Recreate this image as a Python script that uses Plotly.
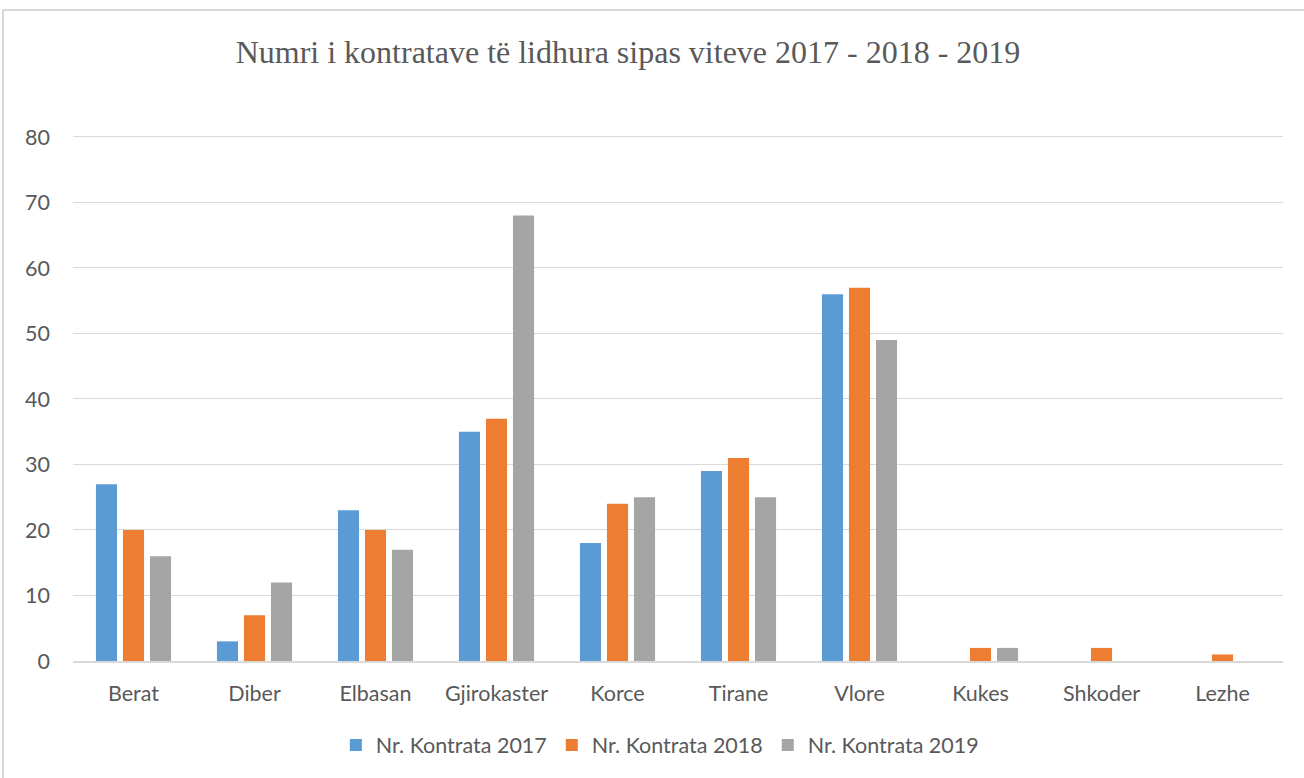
import plotly.graph_objects as go

# Data
regions = ['Berat', 'Diber', 'Elbasan', 'Gjirokaster', 'Korce',
           'Tirane', 'Vlore', 'Kukes', 'Shkoder', 'Lezhe']
kontrata_2017 = [27, 3, 23, 35, 18, 29, 56, 0, 0, 0]
kontrata_2018 = [20, 7, 20, 37, 24, 31, 57, 2, 2, 1]
kontrata_2019 = [16, 12, 17, 68, 25, 25, 49, 2, 0, 0]
y_ticks = [0, 10, 20, 30, 40, 50, 60, 70, 80]

series = [
    ('Nr. Kontrata 2017', kontrata_2017, '#5B9BD5'),
    ('Nr. Kontrata 2018', kontrata_2018, '#ED7D31'),
    ('Nr. Kontrata 2019', kontrata_2019, '#A5A5A5'),
]

W, H = 1304, 778
ML, MR, MT, MB = 73, 21, 135, 117
pw, ph = W - ML - MR, H - MT - MB
y_top = 80.3  # a little headroom so the 80 gridline is drawn

fig = go.Figure()
for name, vals, color in series:
    fig.add_trace(go.Bar(
        x=regions,
        y=vals,
        name=name,
        marker=dict(color=color, line=dict(width=0)),
    ))

txt = '#595959'
fs = 21.5
fig.update_layout(
    width=W, height=H,
    margin=dict(l=ML, r=MR, t=MT, b=MB),
    paper_bgcolor='white',
    plot_bgcolor='white',
    barmode='group',
    bargap=0.33,
    bargroupgap=0.22,
    font=dict(family='Lato, Open Sans, sans-serif', size=fs, color=txt),
    title=dict(
        text='Numri i kontratave të lidhura sipas viteve 2017 - 2018 - 2019',
        font=dict(family='Liberation Serif, Times New Roman, serif', size=32, color=txt),
        x=628 / W, xanchor='center',
        y=1 - 52 / H, yanchor='middle', yref='container',
    ),
    legend=dict(
        orientation='h',
        x=0.485, xanchor='center',
        y=(661 - 745) / ph, yanchor='middle',
        font=dict(size=fs, color=txt),
        itemwidth=30,
    ),
    showlegend=True,
)

fig.update_xaxes(
    showgrid=False,
    showline=True, linecolor='#D9D9D9', linewidth=2,
    ticks='', ticklabelstandoff=12,
    tickfont=dict(size=fs, color=txt),
)
fig.update_yaxes(
    range=[0, y_top],
    tickvals=y_ticks,
    showgrid=True, gridcolor='#D9D9D9', gridwidth=1,
    zeroline=False, showline=False,
    ticks='', ticklabelstandoff=22,
    tickfont=dict(size=fs, color=txt),
)

# Outer chart border (as in the exported Excel chart)
fig.add_shape(
    type='rect', xref='paper', yref='paper',
    x0=(3 - ML) / pw, x1=(W + 5 - ML) / pw,
    y0=(H - MB - H - 5) / ph, y1=(H - MB - 10) / ph,
    line=dict(color='#D9D9D9', width=2), fillcolor='rgba(0,0,0,0)',
    layer='below',
)

fig.write_html('out.html', config={'displayModeBar': False},
               post_script="document.body.style.margin='0';")
